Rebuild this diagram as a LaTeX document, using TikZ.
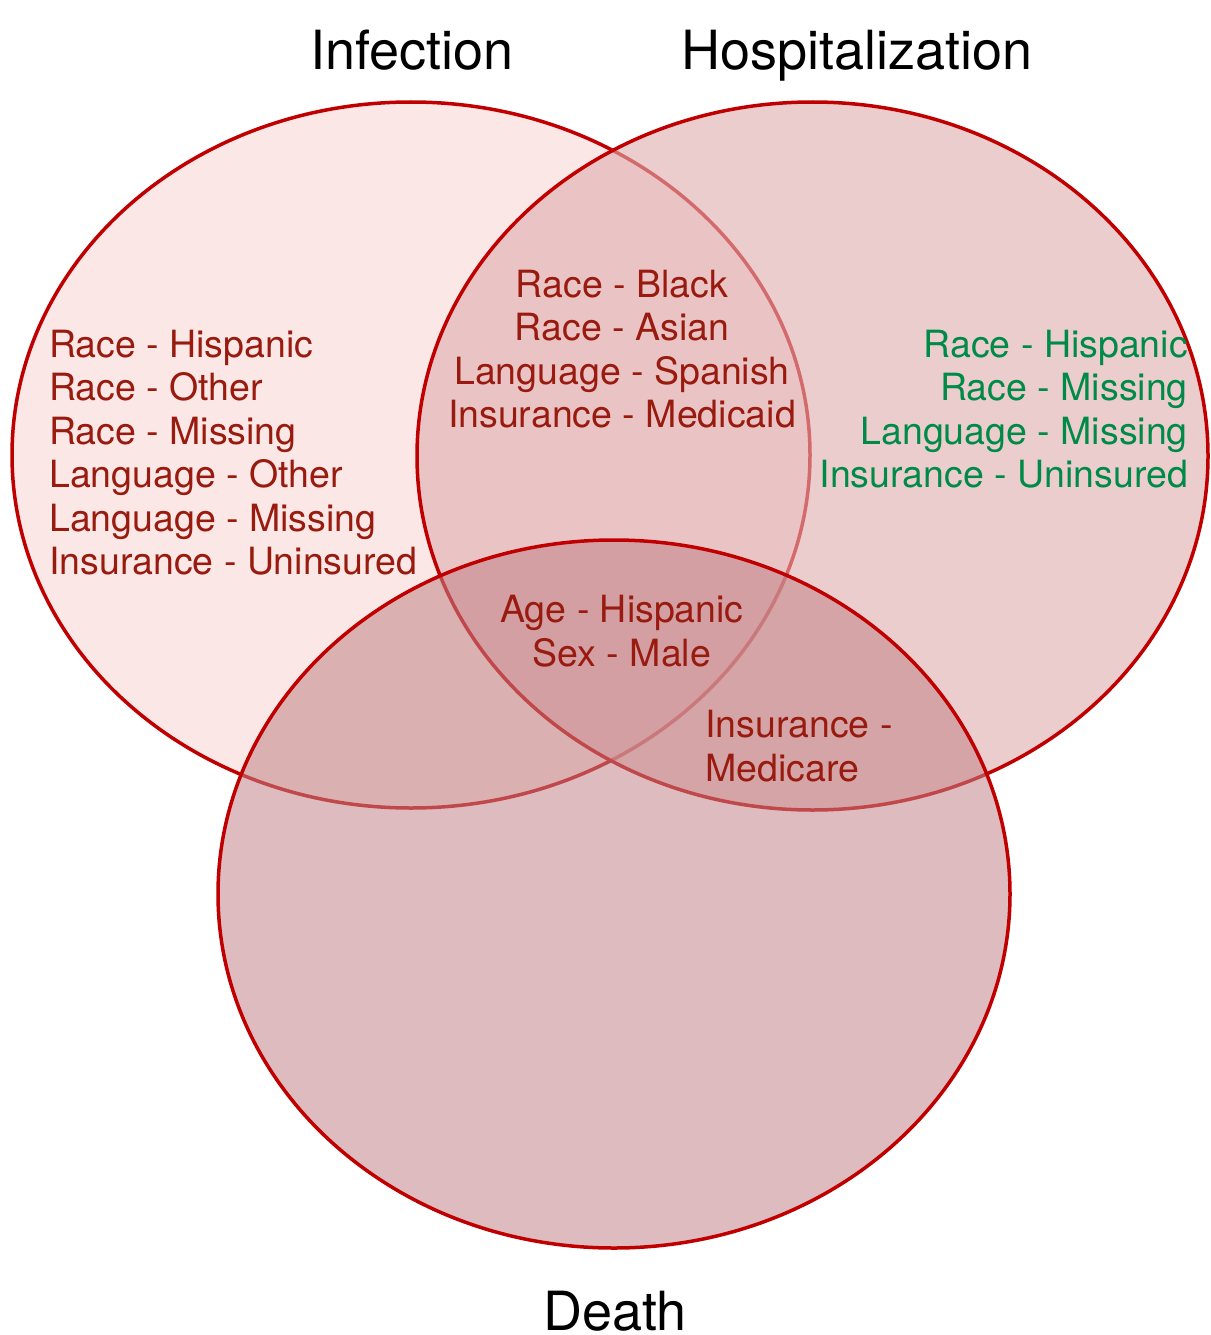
\documentclass[tikz,border=0pt]{standalone}
\usepackage{fontspec}
\setmainfont{TeX Gyre Heros}
\definecolor{edgered}{HTML}{C00000}
\definecolor{infill}{HTML}{FBE7E5}
\definecolor{hosfill}{RGB}{224,174,176}
\definecolor{deafill}{RGB}{193,131,136}
\definecolor{lbl}{HTML}{991A0F}
\definecolor{grn}{HTML}{008A48}
\begin{document}
\begin{tikzpicture}[x=1pt,y=-1pt,
  setshape/.style={line width=3.5pt, draw=edgered},
  lab/.style={text=lbl, font=\fontsize{37.5}{43.5}\selectfont, inner sep=0pt},
  glab/.style={lab, text=grn, anchor=base east},
  llab/.style={lab, anchor=base west},
  clab/.style={lab, anchor=base},
  ttl/.style={font=\fontsize{54}{60}\selectfont, inner sep=0pt, anchor=base}]
\useasboundingbox (0,0) rectangle (1210,1335);
% sets
\path[setshape, fill=infill] (411,455) ellipse [x radius=399pt, y radius=353pt];
\path[setshape, fill=hosfill, fill opacity=0.62] (812.5,456) ellipse [x radius=395.5pt, y radius=354pt];
\path[setshape, fill=deafill, fill opacity=0.55] (614,894) ellipse [x radius=396pt, y radius=354pt];
% titles
\node[ttl] (tinf) at (412,70) {Infection};
\node[ttl] (thos) at (857,70) {Hospitalization};
\node[ttl] (tdea) at (615,1330) {Death};
% infection only
\node[llab] (i1) at (49,357) {Race - Hispanic};
\node[llab] (i2) at (49,400.5) {Race - Other};
\node[llab] (i3) at (49,444) {Race - Missing};
\node[llab] (i4) at (49,487.5) {Language - Other};
\node[llab] (i5) at (49,531) {Language - Missing};
\node[llab] (i6) at (49,574.5) {Insurance - Uninsured};
% infection & hospitalization
\node[clab] (ih1) at (622,297) {Race - Black};
\node[clab] (ih2) at (622,340.5) {Race - Asian};
\node[clab] (ih3) at (622,384) {Language - Spanish};
\node[clab] (ih4) at (622,427.5) {Insurance - Medicaid};
% all three
\node[clab] (ihd1) at (622,622) {Age - Hispanic};
\node[clab] (ihd2) at (622,666) {Sex - Male};
% hospitalization & death
\node[llab] (hd1) at (705,737) {Insurance -};
\node[llab] (hd2) at (705,781) {Medicare};
% hospitalization only
\node[glab] (h1) at (1188,357) {Race - Hispanic};
\node[glab] (h2) at (1188,400.5) {Race - Missing};
\node[glab] (h3) at (1188,444) {Language - Missing};
\node[glab] (h4) at (1188,487.5) {Insurance - Uninsured};
\end{tikzpicture}
\end{document}
